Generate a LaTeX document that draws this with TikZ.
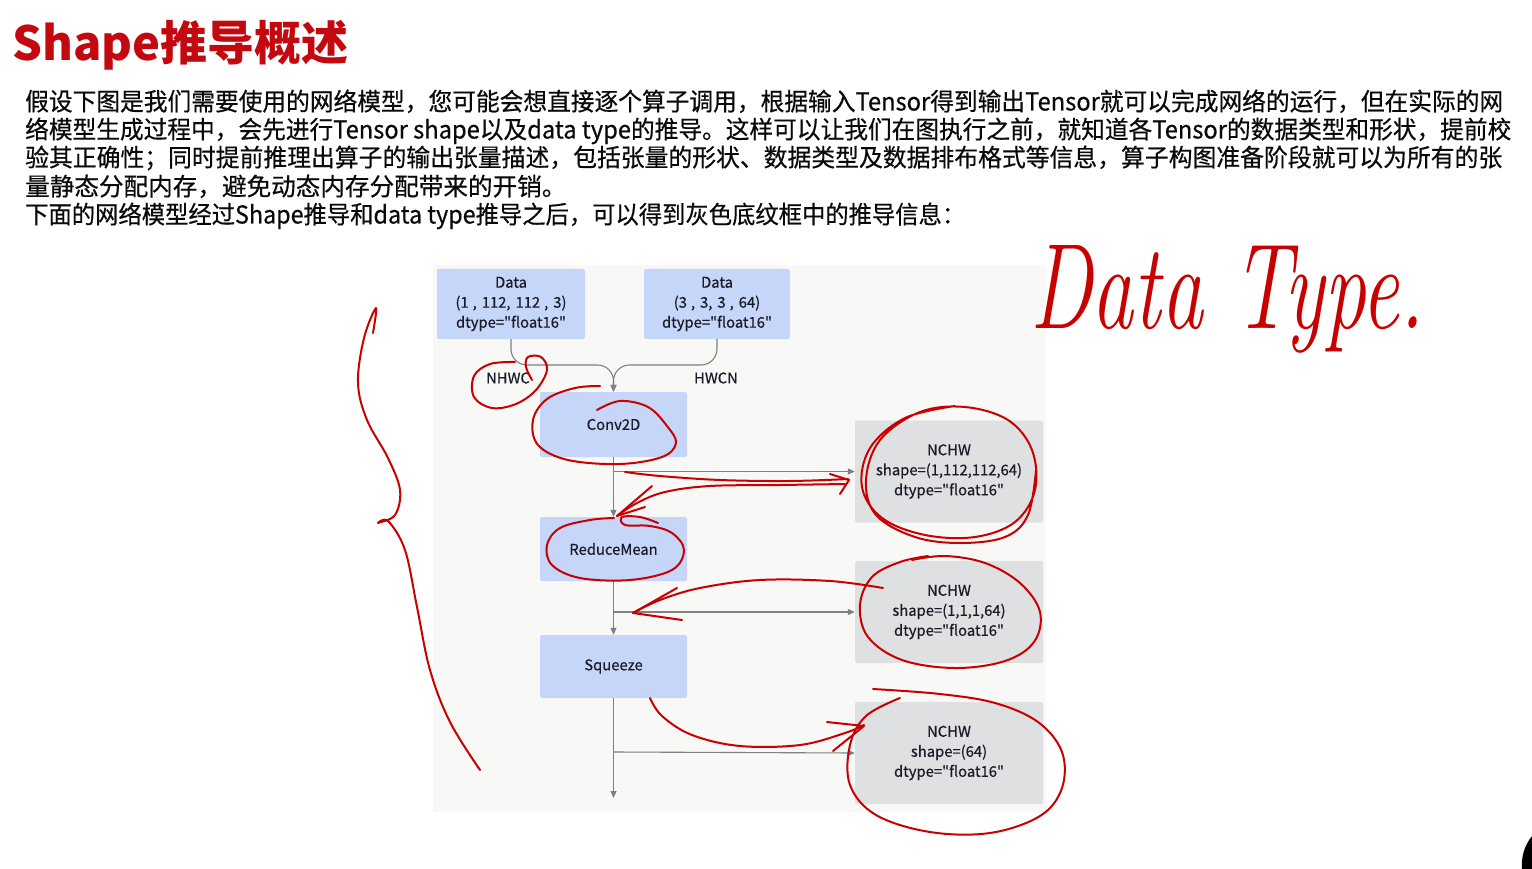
\documentclass[tikz,border=0pt]{standalone}
\usepackage{fontspec}
\setmainfont{Noto Sans CJK SC}[Ligatures=TeXOff]
\newfontfamily\medfont{Noto Sans CJK SC}[Ligatures=TeXOff, FakeBold=0.5]
\newfontfamily\handfont{Latin Modern Roman}
\usetikzlibrary{arrows.meta}
\definecolor{annred}{RGB}{200,0,0}
\definecolor{titlered}{RGB}{196,8,16}
\definecolor{boxblue}{RGB}{197,214,248}
\definecolor{boxgray}{RGB}{223,224,226}
\definecolor{bgpanel}{RGB}{248,248,246}
\definecolor{edgegray}{RGB}{125,128,133}
\definecolor{txt}{RGB}{10,10,10}
\definecolor{nodetxt}{RGB}{25,28,40}
\begin{document}
\begin{tikzpicture}[x=1pt,y=-1pt,
  bluebox/.style={fill=boxblue, draw=none, rounded corners=2pt, align=center, inner sep=0pt,
    font=\medfont\fontsize{14.8}{20}\selectfont, text=nodetxt, minimum width=147pt},
  graybox/.style={fill=boxgray, draw=none, rounded corners=2pt, align=center, inner sep=0pt,
    font=\medfont\fontsize{14.8}{20}\selectfont, text=nodetxt, minimum width=188pt, minimum height=102pt},
  lbl/.style={font=\medfont\fontsize{14.8}{18}\selectfont, text=nodetxt, inner sep=0pt},
  edge/.style={draw=edgegray, line width=1.1pt, -{Triangle[length=7pt,width=6pt]}},
  ann/.style={draw=annred, line width=2pt, line cap=round, line join=round},
  para/.style={anchor=base west, inner sep=0pt, text=txt, font=\medfont\fontsize{24.6}{28}\selectfont},
]
\useasboundingbox (0,0) rectangle (1532,869);
\fill[white] (0,0) rectangle (1532,869);

% title
\node[anchor=base west, inner sep=0pt, text=titlered, font=\fontsize{47}{47}\selectfont\bfseries] (title) at (12,61) {Shape推导概述};

% paragraph
\node[para] (p1) at (25,110.5) {\resizebox{1478pt}{\height}{假设下图是我们需要使用的网络模型，您可能会想直接逐个算子调用，根据输入Tensor得到输出Tensor就可以完成网络的运行，但在实际的网}};
\node[para] (p2) at (25,138.5) {\resizebox{1486pt}{\height}{络模型生成过程中，会先进行Tensor shape以及data type的推导。这样可以让我们在图执行之前，就知道各Tensor的数据类型和形状，提前校}};
\node[para] (p3) at (25,166.5) {\resizebox{1477pt}{\height}{验其正确性；同时提前推理出算子的输出张量描述，包括张量的形状、数据类型及数据排布格式等信息，算子构图准备阶段就可以为所有的张}};
\node[para] (p4) at (25,195.5) {量静态分配内存，避免动态内存分配带来的开销。};
\node[para] (p5) at (25,223.5) {\resizebox{940pt}{\height}{下面的网络模型经过Shape推导和data type推导之后，可以得到灰色底纹框中的推导信息：}};

% diagram panel
\fill[bgpanel] (433,265) rectangle (1046,812);

\node[bluebox, minimum width=148pt, minimum height=70pt] (d1) at (511,304) {Data\\(1\hspace{4pt},\hspace{5pt}112,\hspace{5pt}112\hspace{4pt},\hspace{5pt}3)\\dtype="float16"};
\node[bluebox, minimum width=146pt, minimum height=70pt] (d2) at (717,304) {Data\\(3\hspace{4pt},\hspace{5pt}3,\hspace{5pt}3\hspace{4pt},\hspace{5pt}64)\\dtype="float16"};
\node[lbl] (nhwc) at (508,378) {NHWC};
\node[lbl] (hwcn) at (716,378) {HWCN};
\node[bluebox, minimum height=65pt] (conv) at (613.5,424.5) {Conv2D};
\node[bluebox, minimum height=64pt] (rm) at (613.5,549) {ReduceMean};
\node[bluebox, minimum height=63pt] (sq) at (613.5,666.5) {Squeeze};
\node[graybox] (g1) at (949,471.5) {NCHW\\shape=(1,112,112,64)\\dtype="float16"};
\node[graybox] (g2) at (949,612) {NCHW\\shape=(1,1,1,64)\\dtype="float16"};
\node[graybox] (g3) at (949,753) {NCHW\\shape=(64)\\dtype="float16"};

\coordinate (m) at (613.5,365);
\coordinate (j1) at (613.5,471.5);
\coordinate (j2) at (613.5,612);
\coordinate (j3) at (613.5,752);
\coordinate (endp) at (613.5,798);

\draw[edge, rounded corners=16pt] (d1.south) |- (m) -- (conv.north);
\draw[edge, rounded corners=16pt] (d2.south) |- (m) -- (conv.north);
\draw[edge] (conv.south) -- (rm.north);
\draw[edge] (rm.south) -- (sq.north);
\draw[edge] (sq.south) -- (endp);
\draw[edge] (j1) -- (g1.west);
\draw[edge] (j2) -- (g2.west);
\draw[edge] (j3) -- (g3.west);

% handwritten annotations
\node[anchor=base west, inner sep=0pt, text=annred, font=\handfont\itshape\fontsize{90}{90}\selectfont] (dt) at (1030,328) {\scalebox{0.93}[1.35]{Data Type.}};

% brace
\draw[ann] plot[smooth, tension=0.6] coordinates {(373,333) (376,308) (364,338) (358,383) (367,420) (388,458) (400,490) (395,515) (378,523) (388,521) (405,550) (417,607) (430,670) (450,722) (480,770)};
% NHWC loop
\draw[ann] plot[smooth, tension=0.6] coordinates {(515,362) (490,364) (474,376) (474,397) (492,408) (516,404) (536,390) (547,370) (541,357) (528,357) (526,367) (532,380)};
% Conv2D loop
\draw[ann] plot[smooth, tension=0.6] coordinates {(597,410) (620,401) (648,407) (667,426) (676,443) (662,457) (620,464) (568,460) (538,445) (533,420) (547,399) (575,388) (600,386)};
% ReduceMean loop
\draw[ann] plot[smooth, tension=0.6] coordinates {(658,523) (640,517) (622,517) (625,525) (650,526) (672,533) (684,550) (672,570) (630,580) (580,578) (552,565) (547,545) (560,528) (590,520) (614,518)};
% arrow to box1
\draw[ann] plot[smooth, tension=0.6] coordinates {(625,472) (660,476) (720,480) (790,481) (848,479)};
\draw[ann] (830,474) -- (849,480) -- (840,494);
% arrow from box1 to ReduceMean
\draw[ann] plot[smooth, tension=0.6] coordinates {(845,484) (780,485) (710,486) (665,492) (637,503) (617,516)};
\draw[ann] (652,486) -- (617,516) -- (645,507);
% box1 double loop
\draw[ann] plot[smooth, tension=0.6] coordinates {(955,406) (905,418) (870,448) (862,487) (882,518) (925,535) (975,537) (1015,522) (1035,490) (1032,450) (1008,420) (965,407) (920,412) (880,440) (866,480) (876,515) (915,537) (960,543) (1005,537) (1028,515) (1036,470)};
% box2 loop
\draw[ann] plot[smooth, tension=0.6] coordinates {(912,560) (945,556) (985,563) (1020,583) (1040,612) (1034,642) (1005,661) (955,668) (902,660) (868,637) (860,605) (872,577) (900,562) (928,556)};
% arrow from box2 to branch
\draw[ann] plot[smooth, tension=0.6] coordinates {(883,588) (830,581) (760,580) (700,588) (660,600) (633,613)};
\draw[ann] (677,588) -- (633,613) -- (682,620);
% arrow from Squeeze to box3
\draw[ann] plot[smooth, tension=0.6] coordinates {(650,698) (662,716) (692,735) (740,746) (800,745) (845,733) (864,725)};
\draw[ann] (827,722) -- (864,726) -- (833,751);
% box3 loop
\draw[ann] plot[smooth, tension=0.6] coordinates {(873,689) (940,694) (995,703) (1038,722) (1062,752) (1062,788) (1040,816) (990,833) (930,832) (876,815) (850,785) (850,745) (866,716) (900,698)};

% cursor artifact
\fill[black] (1532,836) .. controls (1524,846) and (1521,858) .. (1522,869) -- (1532,869) -- cycle;
\end{tikzpicture}
\end{document}
